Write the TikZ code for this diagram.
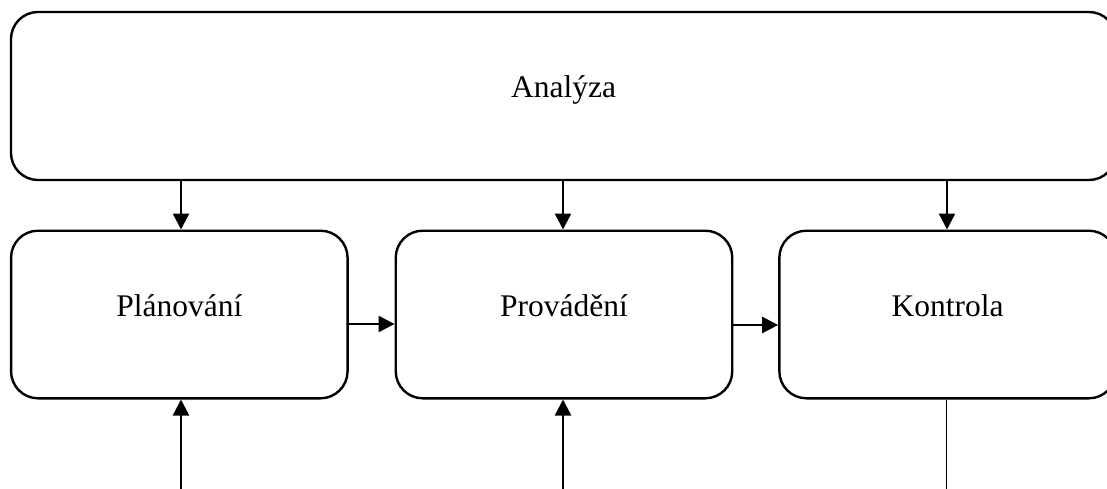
\documentclass[tikz,border=0pt]{standalone}
\usepackage{fontspec}
\setmainfont{Liberation Serif}
\usetikzlibrary{arrows.meta}
\begin{document}
\begin{tikzpicture}[x=1pt,y=-1pt,
  box/.style={draw, line width=2.4pt, rounded corners=27pt, inner sep=0pt,
    font=\fontsize{31.5}{38}\selectfont},
  bigbox/.style={box, minimum width=1105pt, text height=85.7pt, text depth=82.3pt},
  smallbox/.style={box, minimum width=336.5pt, text height=86pt, text depth=81.6pt},
  arr/.style={line width=2.4pt, -{Triangle[length=16pt,width=16pt]}},
  thin/.style={line width=1.2pt}]
\useasboundingbox (0,0) rectangle (1107,489);
\clip (0,0) rectangle (1107,489);
\node[bigbox] (an) at (563.5,96) {Analýza};
\node[smallbox] (pl) at (179.3,314.5) {Plánování};
\node[smallbox] (pr) at (564,314.5) {Provádění};
\node[smallbox] (ko) at (947.6,314.5) {Kontrola};
\coordinate (t1) at (181,0);
\coordinate (t2) at (563,0);
\coordinate (t3) at (947,0);
\coordinate (b1) at (181,489);
\coordinate (b2) at (563,489);
\coordinate (b3) at (946.5,489);
\draw[arr] (an.south -| t1) -- (pl.north -| t1);
\draw[arr] (an.south -| t2) -- (pr.north -| t2);
\draw[arr] (an.south -| t3) -- (ko.north -| t3);
\draw[arr] ([yshift=-9.5pt]pl.east) -- ([yshift=-9.5pt]pr.west);
\draw[arr] ([yshift=-10.5pt]pr.east) -- ([yshift=-10.5pt]ko.west);
\draw[arr] (b1) -- (b1 |- pl.south);
\draw[arr] (b2) -- (b2 |- pr.south);
\draw[thin] (ko.south -| b3) -- (b3);
\end{tikzpicture}
\end{document}
